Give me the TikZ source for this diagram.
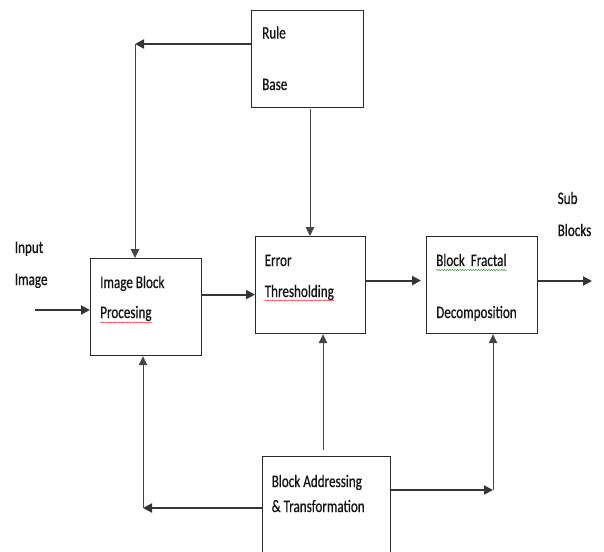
\documentclass[tikz,border=0pt]{standalone}
\usepackage{fontspec}
\setmainfont{Carlito}[FakeStretch=0.75,FakeBold=0.6]
\usetikzlibrary{arrows.meta,decorations.pathmorphing,calc}
\definecolor{boxc}{HTML}{282828}
\definecolor{arrc}{HTML}{353535}
\definecolor{thinc}{HTML}{454545}
\definecolor{txtc}{HTML}{141414}
\definecolor{spellred}{HTML}{E03030}
\definecolor{spellgreen}{HTML}{3A9A3A}
\begin{document}
\begin{tikzpicture}[x=1pt,y=-1pt,
  box/.style={draw=boxc, line width=1.2pt, anchor=north west, inner sep=0pt, fill=white},
  lbl/.style={anchor=base west, inner sep=0pt, font=\fontsize{17.5}{19}\selectfont, text=txtc},
  arr/.style={draw=arrc, line width=1.9pt, -{Triangle[length=9pt,width=9pt]}},
  thinline/.style={draw=thinc, line width=1pt},
  thinarr/.style={thinline, -{Triangle[length=9pt,width=8.5pt]}},
  wavy/.style={decorate, decoration={snake, amplitude=0.6pt, segment length=2.6pt}, line width=0.5pt}]
\useasboundingbox[fill=white] (0,0) rectangle (604,551);
\clip (0,0) rectangle (604,551);
% boxes
\node[box, minimum width=112pt, minimum height=97pt] (rule) at (251,10) {};
\node[box, minimum width=111pt, minimum height=97pt] (img) at (90,258) {};
\node[box, minimum width=110pt, minimum height=97pt] (err) at (255,236) {};
\node[box, minimum width=111pt, minimum height=97pt] (fr) at (426,236) {};
\node[box, minimum width=128pt, minimum height=120pt] (bot) at (262,456) {};
% texts
\node[lbl] (ruleA) at (262,38.5) {Rule};
\node[lbl] (ruleB) at (262,90) {Base};
\node[lbl] (inA) at (14.6,253) {Input};
\node[lbl] (inB) at (14.6,285) {Image};
\node[lbl] (imgA) at (100,288) {Image Block};
\node[lbl] (imgB) at (100,318) {Procesing};
\node[lbl] (errA) at (264.5,266) {Error};
\node[lbl] (errB) at (264.5,297) {Thresholding};
\node[lbl] (frA) at (436,266) {Block\ \ Fractal};
\node[lbl] (frB) at (436,318) {Decomposition};
\node[lbl] (subA) at (557.5,204) {Sub};
\node[lbl] (subB) at (557.5,236) {Blocks};
\node[lbl] (botA) at (271.5,487) {Block Addressing};
\node[lbl] (botB) at (271.5,512) {\& Transformation};
% spell-check underlines
\draw[wavy, spellred] ([yshift=-4.5pt]imgB.base west) -- ([yshift=-4.5pt]imgB.base east);
\draw[wavy, spellred] ([yshift=-3.5pt]errB.base west) -- ([yshift=-3.5pt]errB.base east);
\draw[wavy, spellgreen] ([yshift=-4pt]frA.base west) -- ([yshift=-4pt]frA.base east);
% corner coordinates
\coordinate (c1) at (135,44);
\coordinate (in) at (35,310);
\coordinate (out) at (592,281);
\coordinate (c2) at (143,508);
\coordinate (c3) at (493,490);
\coordinate (c4) at (323,450);
\coordinate (c5) at (310,109);
% connectors
\draw[arr] (rule.west |- c1) -- (c1);
\draw[thinarr] (c1) -- (c1 |- img.north);
\draw[thinarr] (c5) -- (c5 |- err.north);
\draw[arr] (in) -- (in -| img.west);
\draw[arr] ([yshift=12.5pt]img.east) coordinate (a) -- (a -| err.west);
\draw[arr] ([yshift=4.5pt]err.east) coordinate (b) -- ($(b -| fr.west)+(-5,0)$);
\draw[arr] (fr.east |- out) -- (out);
\draw[thinarr] (c4) -- (c4 |- err.south);
\draw[arr] (bot.west |- c2) -- (c2);
\draw[thinarr] (c2) -- (c2 |- img.south);
\draw[arr] (bot.east |- c3) -- (c3);
\draw[thinarr] (c3) -- (c3 |- fr.south);
\end{tikzpicture}
\end{document}
